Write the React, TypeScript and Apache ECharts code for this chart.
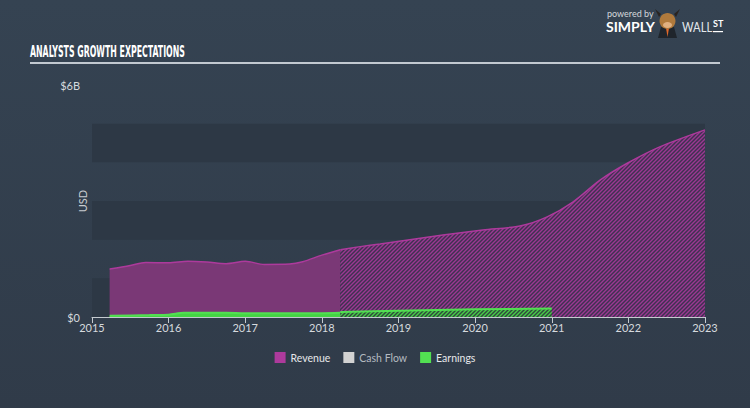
import React, { useEffect, useRef } from "react";
import * as echarts from "echarts";

const yearTicks = [2015, 2016, 2017, 2018, 2019, 2020, 2021, 2022, 2023];

const revActualYears = [2015.23, 2015.5, 2015.7, 2016.0, 2016.25, 2016.5, 2016.75, 2017.0, 2017.25, 2017.58, 2017.75, 2018.0, 2018.24];
const revActualValues = [1.24, 1.33, 1.41, 1.40, 1.44, 1.42, 1.38, 1.44, 1.36, 1.37, 1.43, 1.60, 1.74];

const revEstYears = [2018.24, 2018.5, 2018.76, 2019.58, 2020.1, 2020.6, 2020.94, 2021.28, 2021.63, 2021.98, 2022.41, 2023.0];
const revEstValues = [1.74, 1.82, 1.89, 2.12, 2.25, 2.36, 2.59, 2.98, 3.54, 3.97, 4.40, 4.84];

const earnActualYears = [2015.23, 2015.75, 2016.0, 2016.2, 2016.75, 2017.0, 2017.5, 2018.0, 2018.24];
const earnActualValues = [0.03, 0.05, 0.06, 0.11, 0.11, 0.10, 0.10, 0.10, 0.11];

const earnEstYears = [2018.24, 2019.0, 2020.0, 2021.0];
const earnEstValues = [0.13, 0.16, 0.20, 0.22];

const legendNames = ["Revenue", "Cash Flow", "Earnings"];

const B = 1e9;
const pairs = (xs: number[], ys: number[]) => xs.map((x, i) => [x, ys[i] * B]);

function hatch(bg: string, fg: string) {
  const c = document.createElement("canvas");
  c.width = 4;
  c.height = 4;
  const ctx = c.getContext("2d")!;
  ctx.fillStyle = bg;
  ctx.fillRect(0, 0, 4, 4);
  ctx.strokeStyle = fg;
  ctx.lineWidth = 1.4;
  ctx.beginPath();
  ctx.moveTo(0, 4);
  ctx.lineTo(4, 0);
  ctx.moveTo(-1, 1);
  ctx.lineTo(1, -1);
  ctx.moveTo(3, 5);
  ctx.lineTo(5, 3);
  ctx.stroke();
  return { image: c, repeat: "repeat" } as any;
}

export default function App() {
  const ref = useRef<HTMLDivElement>(null);
  useEffect(() => {
    document.body.style.margin = "0";
    const chart = echarts.init(ref.current!, null, { renderer: "svg" });
    const revColor = "#ad3a9c";
    const earnColor = "#52e052";
    const font = "Lato, 'Noto Sans', sans-serif";
    const option: any = {
      animation: false,
      backgroundColor: {
        type: "linear", x: 0, y: 0, x2: 0, y2: 1,
        colorStops: [{ offset: 0, color: "#354352" }, { offset: 1, color: "#303b49" }],
      },
      textStyle: { fontFamily: font },
      grid: { left: 92, right: 45, top: 85, bottom: 91 },
      legend: {
        bottom: 40,
        left: "center",
        icon: "rect",
        itemWidth: 11,
        itemHeight: 11,
        itemGap: 13,
        textStyle: { color: "#e6e8ea", fontSize: 10.5, fontFamily: font },
        data: [
          { name: legendNames[0] },
          { name: legendNames[1], textStyle: { color: "#b4bac0" } },
          { name: legendNames[2] },
        ],
      },
      xAxis: {
        type: "value",
        min: 2015,
        max: 2023,
        interval: 1,
        splitLine: { show: false },
        axisLine: { show: true, lineStyle: { color: "#c4cad0", width: 1 } },
        axisTick: { show: true, length: 6, lineStyle: { color: "#c4cad0" } },
        axisLabel: {
          color: "#d6dade",
          fontSize: 11,
          margin: 5,
          formatter: (v: number) => (yearTicks.includes(v) ? String(v) : ""),
        },
      },
      yAxis: {
        type: "value",
        min: 0,
        max: 6 * B,
        interval: B,
        axisLine: { show: false },
        axisTick: { show: false },
        splitLine: { show: false },
        splitArea: { show: true, areaStyle: { color: ["#2d3845", "rgba(0,0,0,0)"] } },
        axisLabel: {
          color: "#d6dade",
          fontSize: 11,
          margin: 12,
          formatter: (v: number) => (v === 0 ? "$0" : v === 6 * B ? "$6B" : ""),
        },
      },
      series: [
        {
          name: "Revenue",
          type: "line",
          smooth: 0.3,
          showSymbol: false,
          color: revColor,
          lineStyle: { color: revColor, width: 1.5 },
          areaStyle: { color: "#7a3876", opacity: 1 },
          data: pairs(revActualYears, revActualValues),
          z: 2,
        },
        {
          name: "Revenue",
          type: "line",
          smooth: 0.3,
          showSymbol: false,
          color: revColor,
          lineStyle: { color: revColor, width: 1.5 },
          areaStyle: { color: hatch("#3e3150", "#9c3892"), opacity: 1 },
          data: pairs(revEstYears, revEstValues),
          z: 2,
        },
        {
          name: "Cash Flow",
          type: "line",
          color: "#d2d2d2",
          data: [],
        },
        {
          name: "Earnings",
          type: "line",
          smooth: 0.3,
          showSymbol: false,
          color: earnColor,
          lineStyle: { color: earnColor, width: 2 },
          areaStyle: { color: "#44d444", opacity: 1 },
          data: pairs(earnActualYears, earnActualValues),
          z: 3,
        },
        {
          name: "Earnings",
          type: "line",
          smooth: 0.3,
          showSymbol: false,
          color: earnColor,
          lineStyle: { color: earnColor, width: 2 },
          areaStyle: { color: hatch("#2e4a3c", "#48cc48"), opacity: 1 },
          data: pairs(earnEstYears, earnEstValues),
          z: 3,
        },
      ],
      graphic: [
        {
          type: "text",
          x: 30,
          y: 45,
          scaleX: 0.58,
          style: {
            text: "ANALYSTS GROWTH EXPECTATIONS",
            fill: "#ffffff",
            font: "bold 15px 'DejaVu Sans Condensed', 'Liberation Sans Narrow', sans-serif",
          },
        },
        {
          type: "rect",
          shape: { x: 30, y: 62, width: 690, height: 2 },
          style: { fill: "#c2c9d0" },
        },
        {
          type: "text",
          x: 82,
          y: 201,
          rotation: Math.PI / 2,
          style: { text: "USD", fill: "#c8ccd0", font: "11px " + font, align: "center", verticalAlign: "middle" },
        },
        {
          type: "group",
          children: [
            { type: "rect", shape: { x: 210, y: 204, width: 31, height: 17 }, style: { fill: "#1b2029" } },
            {
              type: "text", x: 225.5, y: 212.5,
              style: { text: "Actual", fill: "#e8eaec", font: "11px " + font, align: "center", verticalAlign: "middle" },
            },
            { type: "rect", shape: { x: 500, y: 204, width: 46, height: 17 }, style: { fill: "#1b2029" } },
            {
              type: "text", x: 523, y: 212.5,
              style: { text: "Estimated", fill: "#e8eaec", font: "11px " + font, align: "center", verticalAlign: "middle" },
            },
          ],
        },
        {
          type: "group",
          children: [
            { type: "text", x: 607, y: 9, style: { text: "powered by", fill: "#d4d8dc", font: "9px " + font } },
            { type: "text", x: 606, y: 19, style: { text: "SIMPLY", fill: "#ffffff", font: "bold 14px " + font } },
            { type: "polygon", shape: { points: [[658, 38], [661, 27], [674, 27], [677, 38]] }, style: { fill: "#1f252c" } },
            { type: "polygon", shape: { points: [[666, 28], [669, 28], [667.5, 37]] }, style: { fill: "#e0682a" } },
            { type: "ellipse", shape: { cx: 667.5, cy: 21, rx: 8, ry: 8 }, style: { fill: "#b07a3c" } },
            { type: "polygon", shape: { points: [[659, 17], [655, 9], [661, 14]] }, style: { fill: "#2a2420" } },
            { type: "polygon", shape: { points: [[676, 17], [680, 9], [674, 14]] }, style: { fill: "#2a2420" } },
            { type: "ellipse", shape: { cx: 667.5, cy: 25, rx: 4.5, ry: 3 }, style: { fill: "#e0b080" } },
            { type: "text", x: 682, y: 19, scaleX: 0.8, style: { text: "WALL", fill: "#e4e8ec", font: "14px " + font } },
            { type: "text", x: 713, y: 19, style: { text: "ST", fill: "#ffffff", font: "bold 9px " + font } },
            { type: "rect", shape: { x: 713, y: 31, width: 10, height: 1.2 }, style: { fill: "#ffffff" } },
          ],
        },
      ],
    };
    chart.setOption(option);
    return () => chart.dispose();
  }, []);
  return <div ref={ref} style={{ width: 750, height: 408 }} />;
}
